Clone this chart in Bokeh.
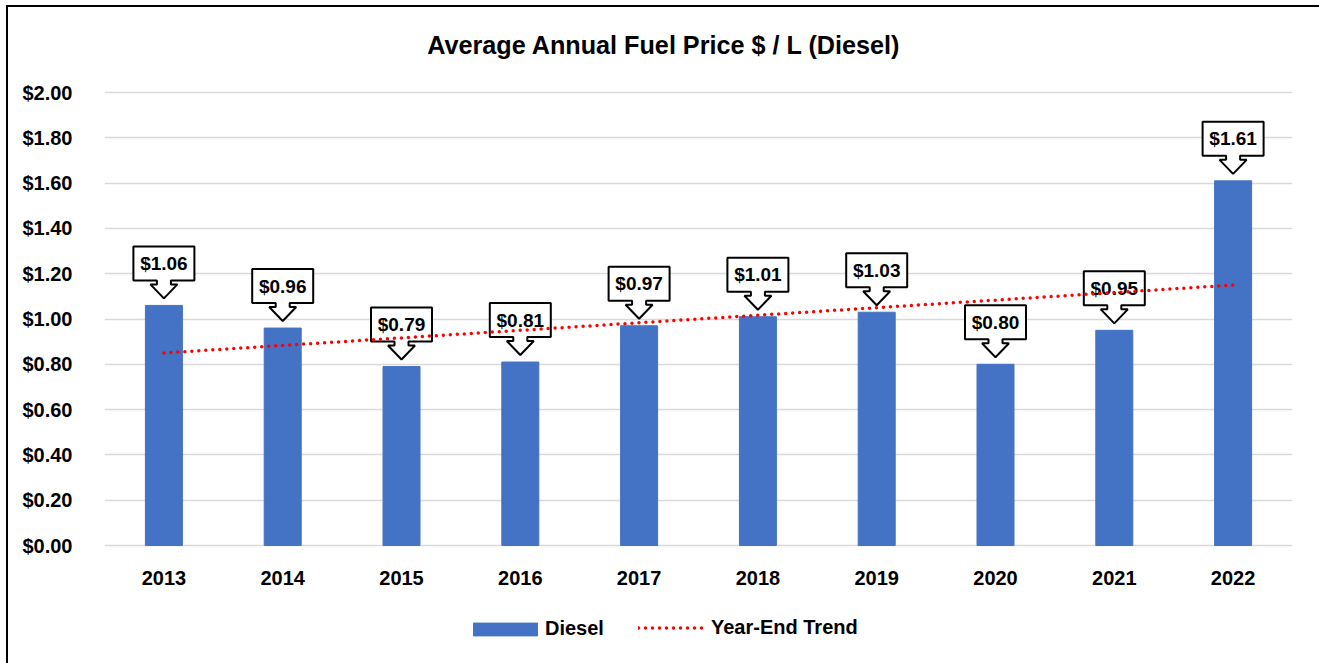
from bokeh.plotting import figure
from bokeh.models import (Range1d, FixedTicker, NumeralTickFormatter, Legend, LegendItem, Label)
from bokeh.core.properties import value
from bokeh.embed import file_html
from bokeh.resources import INLINE

# ---- data ----
years = ["2013", "2014", "2015", "2016", "2017", "2018", "2019", "2020", "2021", "2022"]
diesel = [1.06, 0.96, 0.79, 0.81, 0.97, 1.01, 1.03, 0.80, 0.95, 1.61]
trend_years = ["2013", "2022"]
trend_values = [0.85, 1.15]
y_ticks = [0.0, 0.2, 0.4, 0.6, 0.8, 1.0, 1.2, 1.4, 1.6, 1.8, 2.0]
title_text = "Average Annual Fuel Price $ / L (Diesel)"

FONT = value("Liberation Sans")
PLOT_W, PLOT_H = 1188, 453      # pixel size of the 0..2 value area
EXTRA_ABOVE = 85                # room above the value area for the title
EXTRA_BELOW = 105               # room under the value area for year labels and legend
FRAME_H = PLOT_H + EXTRA_ABOVE + EXTRA_BELOW
X0, X1 = -0.5, len(years) - 0.5
px_x = (X1 - X0) / PLOT_W
px_y = 2.0 / PLOT_H
Y0, Y1 = -EXTRA_BELOW * px_y, 2.0 + EXTRA_ABOVE * px_y

p = figure(width=1311, height=FRAME_H + 13, output_backend="svg", toolbar_location=None,
           x_range=Range1d(X0, X1), y_range=Range1d(Y0, Y1),
           frame_width=PLOT_W, frame_height=FRAME_H,
           min_border_left=96, min_border_right=27, min_border_top=0, min_border_bottom=13)
p.outline_line_color = None
p.background_fill_color = "white"
p.border_fill_color = "white"
p.styles = {"border-left": "2px solid black", "border-top": "2px solid black",
            "margin-left": "6px", "margin-top": "5px"}

xs = list(range(len(years)))

# title (inside the frame, above the value area)
p.add_layout(Label(x=559.5, y=FRAME_H - 37, x_units="screen", y_units="screen",
                   text=title_text, text_align="center", text_baseline="middle",
                   text_font="Liberation Sans", text_font_style="bold",
                   text_font_size="25.2px", text_color="black"))

# axes
p.xaxis.visible = False
p.yaxis.ticker = FixedTicker(ticks=y_ticks)
p.yaxis.formatter = NumeralTickFormatter(format="$0.00")
ax = p.yaxis[0]
ax.axis_line_color = None
ax.major_tick_line_color = None
ax.minor_tick_line_color = None
ax.major_label_text_font = "Liberation Sans"
ax.major_label_text_font_style = "bold"
ax.major_label_text_font_size = "20px"
ax.major_label_text_color = "black"
ax.major_label_standoff = 26
p.xgrid.grid_line_color = None
p.ygrid.ticker = FixedTicker(ticks=y_ticks)
p.ygrid.grid_line_color = "#D9D9D9"
p.ygrid.grid_line_width = 1.5

# year (category) labels under the bars
p.text(x=xs, y=[0] * len(xs), text=years, y_offset=32, text_align="center",
       text_baseline="middle", text_font=FONT, text_font_style="bold",
       text_font_size="20px", text_color="black")

# bars
bar_w = 37 * px_x
bars = p.vbar(x=xs, top=diesel, width=bar_w, fill_color="#4472C4", line_color="#4472C4")

# callouts (geometry in pixels converted to data units)
gap = 7
shape = [(0, 0), (13.5, 14), (7, 14), (7, 18), (30.5, 18), (30.5, 52),
         (-30.5, 52), (-30.5, 18), (-7, 18), (-7, 14), (-13.5, 14)]
pxs, pys = [], []
for i, v in zip(xs, diesel):
    pxs.append([i + dx * px_x for dx, dy in shape])
    pys.append([v + (gap + dy) * px_y for dx, dy in shape])
p.patches(pxs, pys, fill_color="white", line_color="black", line_width=2)
labels = ["$%.2f" % v for v in diesel]
p.text(x=xs, y=diesel, text=labels, y_offset=-(gap + 35), text_align="center",
       text_baseline="middle", text_font=FONT, text_font_style="bold",
       text_font_size="19px", text_color="black")

# trend line
tx = [years.index(t) for t in trend_years]
trend = p.line(tx, trend_values, line_color="#FF0000", line_width=3.5,
               line_dash="0 7", line_cap="round")

# legends (two, so each key can have its own size)
common = dict(orientation="horizontal", padding=0, margin=0, border_line_color=None,
              background_fill_alpha=0, label_text_font="Liberation Sans",
              label_text_font_style="bold", label_text_font_size="20px",
              label_text_color="black")
leg1 = Legend(items=[LegendItem(label="Diesel", renderers=[bars])],
              location=(361, 10), glyph_width=80, glyph_height=16,
              label_height=16, label_standoff=0, **common)
leg2 = Legend(items=[LegendItem(label="Year-End Trend", renderers=[trend])],
              location=(534, 11.5), glyph_width=66, glyph_height=13,
              label_height=13, label_standoff=7, **common)
p.add_layout(leg1)
p.add_layout(leg2)

open("out.html", "w").write(file_html(p, INLINE))
